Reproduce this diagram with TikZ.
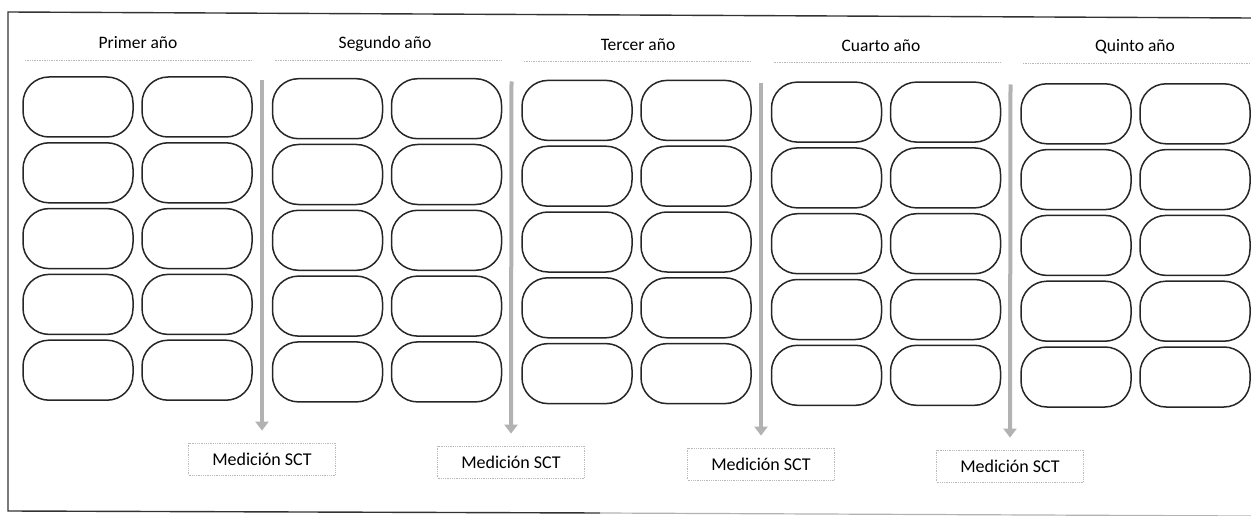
\documentclass[tikz,border=0pt]{standalone}
\usepackage{fontspec}
\setmainfont{Carlito}
\usetikzlibrary{arrows.meta,positioning}

\tikzset{
  cajon/.style={draw=black!85, line width=1.5pt, rounded corners=26pt,
    minimum width=110pt, minimum height=60pt, inner sep=0pt},
  medida/.style={draw=gray!55, densely dotted, line width=0.8pt,
    minimum width=147pt, minimum height=32pt, inner sep=0pt,
    font=\fontsize{18}{21}\selectfont},
  flecha/.style={draw=gray!60, line width=4pt,
    -{Triangle[width=13pt,length=9pt]}, shorten >=12pt},
  titulo/.style={font=\fontsize{17.5}{20}\selectfont},
  raya/.style={gray!55, densely dotted, line width=0.7pt}
}

\begin{document}
\begin{tikzpicture}[x=1pt,y=-1pt]
    % column step
    \def \cs {249.5}
    % row step
    \def \rs {65.8}

    \useasboundingbox (0,0) rectangle (1251,516);

    %Frame
    \draw[black!80, line width=1.4pt] (1251,18) -- (8,12) -- (8,511) -- (600,513);
    \draw[gray!60, line width=1.2pt] (600,513) -- (1251,516);

    %Headings
    \node[titulo] (t0) at (138,43) {Primer año};
    \node[titulo] (t1) at (385,44) {Segundo año};
    \node[titulo] (t2) at (638,45) {Tercer año};
    \node[titulo] (t3) at (881,46) {Cuarto año};
    \node[titulo] (t4) at (1135,47) {Quinto año};

    \foreach \c in {0,...,4}{
      \draw[raya] (25+\cs*\c,60+0.8*\c) -- (252+\cs*\c,60+0.8*\c);
      %two boxes in each row
      \foreach \r in {0,...,4}{
        \node[cajon] (a\c\r) at (78+\cs*\c,107+1.7*\c+\rs*\r) {};
        \node[cajon] (b\c\r) at (197+\cs*\c,107+1.7*\c+\rs*\r) {};
      }
    }

    %Measurements
    \node[medida] (m0) at (262,459) {Medición SCT};
    \node[medida] (m1) at (511,462) {Medición SCT};
    \node[medida] (m2) at (761,464) {Medición SCT};
    \node[medida] (m3) at (1010,466) {Medición SCT};

    \foreach \c in {0,...,3}{
      \coordinate (s\c) at (262+\cs*\c,80+1.5*\c);
      \draw[flecha] (s\c) -- (m\c.north);
    }
\end{tikzpicture}
\end{document}
